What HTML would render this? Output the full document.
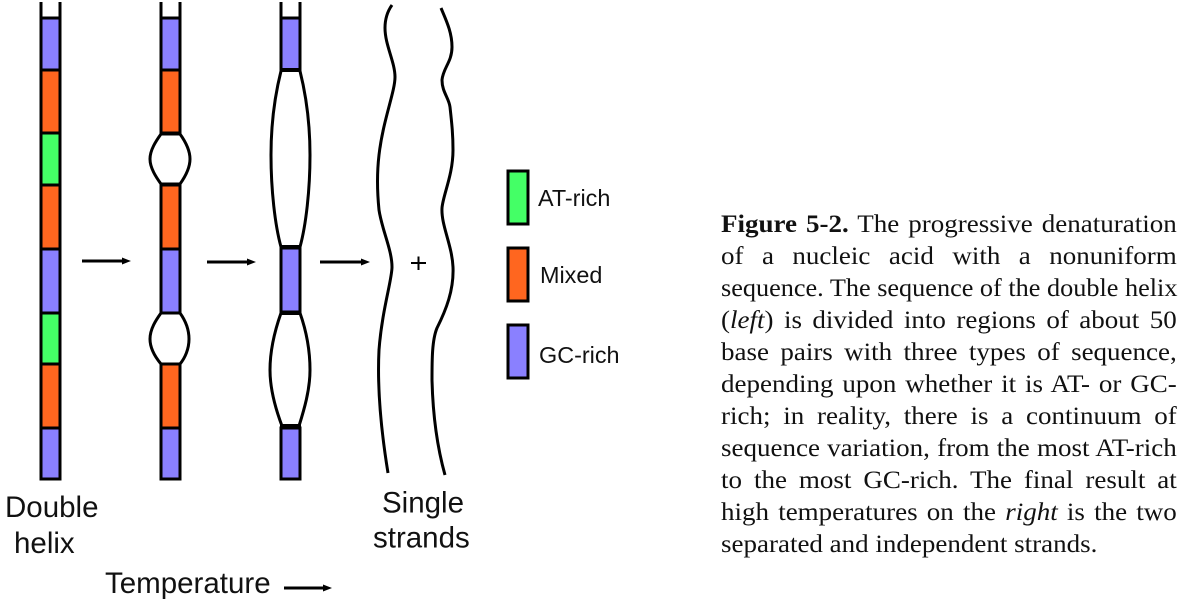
<!DOCTYPE html>
<html><head><meta charset="utf-8">
<style>
html,body{margin:0;padding:0;background:#fff}
body{width:1185px;height:601px;position:relative;overflow:hidden}
svg{position:absolute;left:0;top:0}
.l{position:absolute;left:721px;width:422px;height:32px;font:25px/32px "Liberation Serif",serif;color:#111;text-align:justify;text-align-last:justify;white-space:nowrap;transform:scaleX(1.08);transform-origin:0 0}
.e{text-align-last:left}
</style></head><body>
<svg width="1185" height="601" viewBox="0 0 1185 601" font-family="Liberation Sans, sans-serif" fill="#111">
<g stroke="#000" stroke-width="3">
<!-- Column 1 -->
<g fill="#8a80ff"><rect x="41" y="18" width="19" height="52"/><rect x="41" y="249" width="19" height="64"/><rect x="41" y="428" width="19" height="51"/></g>
<g fill="#ff661f"><rect x="41" y="70" width="19" height="63"/><rect x="41" y="185" width="19" height="64"/><rect x="41" y="364" width="19" height="64"/></g>
<g fill="#44ff66"><rect x="41" y="133" width="19" height="52"/><rect x="41" y="313" width="19" height="51"/></g>
<path d="M41 2V18M60 2V18" fill="none"/>
<!-- Column 2 -->
<g fill="#8a80ff"><rect x="161" y="18" width="19" height="52"/><rect x="161" y="249" width="19" height="64"/><rect x="161" y="428" width="19" height="51"/></g>
<g fill="#ff661f"><rect x="161" y="70" width="19" height="63"/><rect x="161" y="185" width="19" height="64"/><rect x="161" y="364" width="19" height="64"/></g>
<path d="M161 2V18M180 2V18" fill="none"/>
<path d="M161 134H180C185 141 190 150 190 159C190 168 185 177 180 184H161C156 177 150 168 150 159C150 150 156 141 161 134Z" fill="#fff"/>
<path d="M161 313H180C185 320 189 329 189 339C189 349 185 358 180 364H161C156 358 150 349 150 339C150 329 156 320 161 313Z" fill="#fff"/>
<!-- Column 3 -->
<g fill="#8a80ff"><rect x="281" y="18" width="19" height="52"/><rect x="281" y="248" width="19" height="64"/><rect x="281" y="428" width="19" height="51"/></g>
<path d="M281 2V18M300 2V18" fill="none"/>
<path d="M281 71C275 95 271 125 271 155C271 190 275 225 281 247M300 71C306 95 310 125 310 155C310 190 306 225 300 247" fill="none"/>
<path d="M281 313C275 330 270 350 270 370C270 390 276 410 282 426M300 313C306 330 310 350 310 370C310 390 304 410 299 426" fill="none"/>
<path d="M280 70H301M280 247H301M280 313H301M280 426H301" stroke-width="4"/>
<!-- Strands -->
<path d="M392 5C387 12 385 20 385 28C385 45 395 62 395 77C395 92 383 120 379 155C377 172 377 190 379 210C382 230 392 250 392 267C392 280 382 310 379 350C377 390 381 430 388 473" fill="none"/>
<path d="M441 8C446 20 452 32 452 47C452 62 443 68 442 80C442 92 449 98 450 107C452 125 453 135 453 150C453 175 443 195 442 208C441 225 452 245 453 267C454 290 446 310 437 328C432 340 432 360 432 380C433 420 438 450 445 475" fill="none"/>
<!-- Legend -->
<rect x="508" y="171" width="20" height="53" fill="#44ff66"/>
<rect x="508" y="248" width="20" height="53" fill="#ff661f"/>
<rect x="508" y="325" width="20" height="53" fill="#8a80ff"/>
<!-- Arrows -->
<path d="M82 261H124M207 262H249M320 262H363M284 588H324" fill="none"/>
<path d="M418.500 256.500V270M411 263H426" stroke-width="2"/>
</g>
<g fill="#000" stroke="none">
<path d="M122 257.500L131 261L122 264.500Z"/><path d="M247 258.500L256 262L247 265.500Z"/><path d="M361 258.500L370 262L361 265.500Z"/><path d="M323 584.500L332 588L323 591.500Z"/>
</g>
<text x="538" y="206" font-size="23.400">AT-rich</text>
<text x="540" y="283" font-size="23.400">Mixed</text>
<text x="539" y="363" font-size="23.400">GC-rich</text>
<text x="5" y="517" font-size="29.500">Double</text>
<text x="14" y="553" font-size="29.500">helix</text>
<text x="382" y="512.500" font-size="29.500">Single</text>
<text x="373" y="547.500" font-size="29.500">strands</text>
<text x="105" y="593" font-size="29.500">Temperature</text>
</svg>
<div class="l" style="top:209px"><b>Figure 5-2.</b> The progressive denaturation</div>
<div class="l" style="top:241px">of a nucleic acid with a nonuniform</div>
<div class="l" style="top:273px;width:434.400px;transform:scaleX(1.0498)">sequence. The sequence of the double helix</div>
<div class="l" style="top:305px">(<i>left</i>) is divided into regions of about 50</div>
<div class="l" style="top:337px">base pairs with three types of sequence,</div>
<div class="l" style="top:369px">depending upon whether it is AT- or GC-</div>
<div class="l" style="top:401px">rich; in reality, there is a continuum of</div>
<div class="l" style="top:433px">sequence variation, from the most AT-rich</div>
<div class="l" style="top:465px">to the most GC-rich. The final result at</div>
<div class="l" style="top:497px">high temperatures on the <i>right</i> is the two</div>
<div class="l e" style="top:529px">separated and independent strands.</div>
</body></html>
